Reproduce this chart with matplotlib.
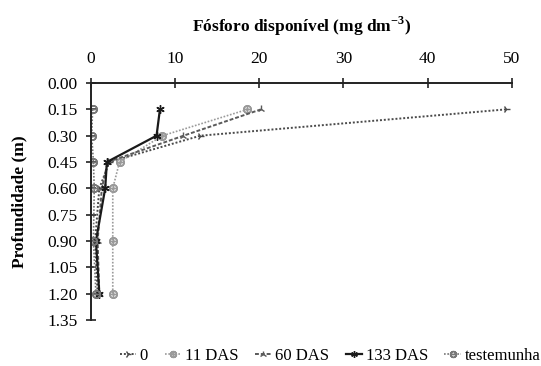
import matplotlib
matplotlib.use("Agg")
import matplotlib.pyplot as plt

matplotlib.rcParams['font.family'] = ['Liberation Serif', 'DejaVu Serif']
matplotlib.rcParams['mathtext.fontset'] = 'custom'
matplotlib.rcParams['mathtext.rm'] = 'Liberation Serif'
matplotlib.rcParams['mathtext.bf'] = 'Liberation Serif:bold'

# depth of each sample (m)
depth = [0.15, 0.30, 0.45, 0.60, 0.90, 1.20]

# available phosphorus (mg dm-3) per treatment
p_0das = [49.3, 13.0, 2.2, 1.0, 0.5, 0.8]
p_11das = [18.6, 8.5, 3.4, 2.6, 2.6, 2.6]
p_60das = [20.2, 11.0, 2.0, 1.3, 0.8, 1.0]
p_133das = [8.2, 7.8, 1.9, 1.7, 0.6, 1.0]
p_test = [0.2, 0.1, 0.3, 0.4, 0.3, 0.6]

labels = ["0", "11 DAS", "60 DAS", "133 DAS", "testemunha"]
xticks = [0, 10, 20, 30, 40, 50]
yticks = [0.00, 0.15, 0.30, 0.45, 0.60, 0.75, 0.90, 1.05, 1.20, 1.35]

fig = plt.figure(figsize=(5.41, 3.66), dpi=100)
ax = fig.add_axes([0.168, 0.126, 0.778, 0.647])

series = [
    (p_0das, dict(color="#4a4a4a", ls=(0, (1, 1)), lw=1.4, marker="4", ms=6)),
    (p_11das, dict(color="#9a9a9a", ls=(0, (1, 1)), lw=1.2,
                   marker=r"$\oplus$", ms=5.5)),
    (p_60das, dict(color="#5a5a5a", ls=(0, (2, 1)), lw=1.4, marker="2", ms=6)),
    (p_133das, dict(color="#1a1a1a", ls="-", lw=1.6,
                    marker=(6, 2, 0), ms=6)),
    (p_test, dict(color="#777777", ls=(0, (1, 1)), lw=1.2,
                  marker=r"$\ominus$", ms=5.5)),
]
for (vals, style), lab in zip(series, labels):
    ax.plot(vals, depth, label=lab, **style)

ax.set_xlim(0, 50)
ax.set_ylim(1.35, 0)
ax.set_xticks(xticks)
ax.set_yticks(yticks, [f"{t:.2f}" for t in yticks])
ax.xaxis.tick_top()
ax.xaxis.set_label_position("top")
ax.tick_params(axis="both", direction="inout", length=7, width=1.2,
               labelsize=12.5, color="#222222")
ax.tick_params(axis="x", pad=8)
ax.tick_params(axis="y", pad=6)
ax.spines[["right", "bottom"]].set_visible(False)
for s in ["top", "left"]:
    ax.spines[s].set_linewidth(1.4)
    ax.spines[s].set_color("#222222")

ax.set_xlabel(r"Fósforo disponível (mg dm$^{\mathbf{-3}}$)",
              fontsize=12.5, fontweight="bold", labelpad=14)
ax.set_ylabel("Profundidade (m)", fontsize=12.5, fontweight="bold",
              labelpad=14)

fig.legend(loc="lower center", bbox_to_anchor=(0.61, -0.035), ncol=5,
           frameon=False, fontsize=12, handlelength=1.0,
           handletextpad=0.2, columnspacing=1.0, markerscale=0.8)

fig.savefig("out.png", dpi=100)
